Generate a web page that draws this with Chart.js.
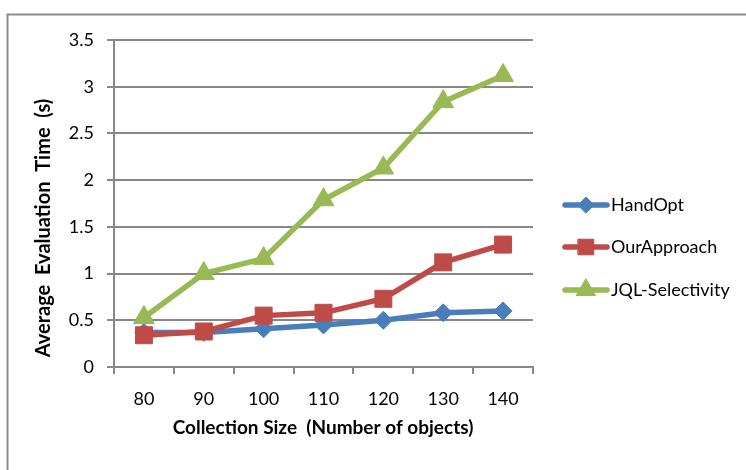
<!DOCTYPE html>
<html><head><meta charset="utf-8">
<script src="https://cdn.jsdelivr.net/npm/chart.js@4"></script>
<style>html,body{margin:0;padding:0;background:#fff;}#wrap{width:746px;height:470px;position:relative;}</style>
</head><body><div id="wrap"><canvas id="c" width="746" height="470"></canvas></div>
<script>
const categories = ['80','90','100','110','120','130','140'];
const handOpt = [0.37, 0.37, 0.41, 0.45, 0.50, 0.58, 0.60];
const ourApproach = [0.34, 0.38, 0.55, 0.58, 0.73, 1.12, 1.31];
const jqlSelectivity = [0.53, 1.00, 1.16, 1.79, 2.13, 2.84, 3.12];
const seriesNames = ['HandOpt','OurApproach','JQL-Selectivity'];
const yTitle = 'Average  Evaluation  Time  (s)';
const xTitle = 'Collection Size  (Number of objects)';

const FONT = 'Lato, "Open Sans", sans-serif';
const GRID = '#878787';
const colors = ['#4A7EBB','#BE4B48','#98B954'];
const styles = ['rectRot','rect','triangle'];
const radii = [9,12,12];

const borderPlugin = {
  id:'outer',
  beforeDraw(chart){
    const ctx = chart.ctx;
    ctx.save();
    ctx.strokeStyle = '#8c8c8c';
    ctx.lineWidth = 2;
    ctx.beginPath();
    ctx.moveTo(7.5, 480);
    ctx.lineTo(7.5, 14.5);
    ctx.lineTo(760, 14.5);
    ctx.stroke();
    ctx.restore();
  }
};

const titlesPlugin = {
  id:'titles',
  afterDraw(chart){
    const ctx = chart.ctx;
    ctx.save();
    ctx.fillStyle = '#000';
    ctx.font = 'bold 19px ' + FONT;
    ctx.textAlign = 'center';
    ctx.textBaseline = 'alphabetic';
    ctx.fillText(xTitle, 323, 434);
    ctx.restore();
    ctx.save();
    ctx.fillStyle = '#000';
    ctx.font = 'bold 20px ' + FONT;
    ctx.textAlign = 'center';
    ctx.textBaseline = 'alphabetic';
    ctx.translate(50, 228);
    ctx.rotate(-Math.PI/2);
    ctx.fillText(yTitle, 0, 0);
    ctx.restore();
  }
};

const legendPlugin = {
  id:'customLegend',
  afterDraw(chart){
    const ctx = chart.ctx;
    const ys = [205, 247, 290];
    chart.data.datasets.forEach((ds, i) => {
      const y = ys[i];
      ctx.save();
      ctx.strokeStyle = ds.borderColor;
      ctx.lineWidth = 5.5;
      ctx.lineCap = 'round';
      ctx.beginPath();
      ctx.moveTo(565, y);
      ctx.lineTo(607, y);
      ctx.stroke();
      ctx.fillStyle = ds.borderColor;
      ctx.lineWidth = 1;
      Chart.helpers.drawPoint(ctx, {pointStyle: ds.pointStyle, radius: ds.pointRadius - 1, borderWidth: 1}, 586, y);
      ctx.restore();
      ctx.save();
      ctx.fillStyle = '#000';
      ctx.font = '18px ' + FONT;
      ctx.textBaseline = 'middle';
      ctx.fillText(ds.label, 611, y);
      ctx.restore();
    });
  }
};

const seriesData = [handOpt, ourApproach, jqlSelectivity];
new Chart(document.getElementById('c'), {
  type: 'line',
  data: {
    labels: categories,
    datasets: seriesData.map((d, i) => ({
      label: seriesNames[i],
      data: d,
      borderColor: colors[i],
      backgroundColor: colors[i],
      borderWidth: 5.5,
      pointStyle: styles[i],
      pointRadius: radii[i],
      pointHoverRadius: radii[i],
      pointBorderWidth: 1,
      pointBackgroundColor: colors[i],
      pointBorderColor: colors[i],
      tension: 0,
      order: 3 - i
    }))
  },
  options: {
    responsive: false,
    animation: false,
    events: [],
    layout: { padding: { left: 0, right: 213, top: 40, bottom: 0 } },
    plugins: { legend: { display: false }, tooltip: { enabled: false } },
    scales: {
      x: {
        offset: true,
        grid: { offset: true, drawOnChartArea: false, drawTicks: true, tickLength: 7, color: GRID, lineWidth: 2 },
        border: { display: true, color: GRID, width: 2 },
        ticks: { color: '#000', font: { family: FONT, size: 18 }, padding: 14, maxRotation: 0 },
        afterFit(s){ s.height = 103; }
      },
      y: {
        min: 0, max: 3.5,
        ticks: { stepSize: 0.5, color: '#000', font: { family: FONT, size: 18 }, padding: 13,
          callback: v => String(Math.round(v*10)/10) },
        grid: { color: GRID, lineWidth: 2, tickLength: 7, drawTicks: true },
        border: { display: true, color: GRID, width: 2 },
        afterFit(s){ s.width = 114; }
      }
    }
  },
  plugins: [borderPlugin, titlesPlugin, legendPlugin]
});
</script></body></html>
